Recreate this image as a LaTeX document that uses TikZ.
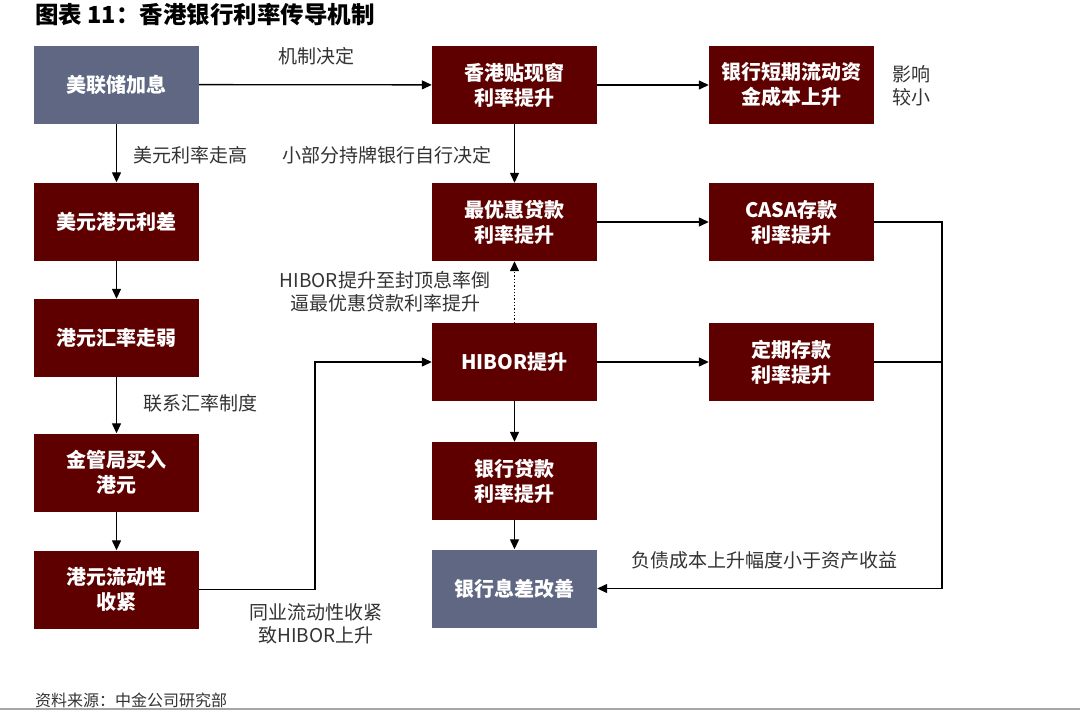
\documentclass[tikz,border=0pt]{standalone}
\usepackage{fontspec}
\setmainfont{Noto Sans CJK SC}
\usetikzlibrary{arrows.meta}
\definecolor{boxred}{HTML}{5E0000}
\definecolor{boxgray}{HTML}{5F6782}
\definecolor{txt}{HTML}{333333}
\begin{document}
\begin{tikzpicture}[x=1pt,y=-1pt,
  redbox/.style={fill=boxred,text=white,minimum width=165pt,minimum height=78pt,inner sep=0pt,
    align=center,font=\fontsize{20}{25}\selectfont\bfseries},
  graybox/.style={redbox,fill=boxgray},
  lbl/.style={text=txt,font=\fontsize{19}{23}\selectfont,align=center,inner sep=0pt},
  arr/.style={line width=1.3pt,-{Triangle[length=10pt,width=9pt]}},
  ln/.style={line width=1.3pt}]
\useasboundingbox (0,0) rectangle (1080,710);
\fill[white] (0,0) rectangle (1080,710);
% title
\node[anchor=west,inner sep=0pt,font=\fontsize{23.5}{27}\selectfont\bfseries,text=black] (title) at (35,15) {图表 11：香港银行利率传导机制};
% boxes
\node[graybox] (a1) at (116.5,84.5) {美联储加息};
\node[redbox] (a2) at (116.5,221.5) {美元港元利差};
\node[redbox] (a3) at (116.5,338) {港元汇率走弱};
\node[redbox] (a4) at (116.5,472.5) {金管局买入\\港元};
\node[redbox] (a5) at (116.5,589.5) {港元流动性\\收紧};
\node[redbox] (b1) at (514.5,85) {香港贴现窗\\利率提升};
\node[redbox] (b2) at (514.5,222) {最优惠贷款\\利率提升};
\node[redbox] (b3) at (514.5,362) {HIBOR提升};
\node[redbox] (b4) at (514.5,481) {银行贷款\\利率提升};
\node[graybox] (b5) at (514.5,588.5) {银行息差改善};
\node[redbox] (c1) at (791.5,85) {银行短期流动资\\金成本上升};
\node[redbox] (c2) at (791.5,222) {CASA存款\\利率提升};
\node[redbox] (c3) at (791.5,362) {定期存款\\利率提升};
% labels
\node[lbl] (l1) at (316,56) {机制决定};
\node[lbl] (l2) at (190,155) {美元利率走高};
\node[lbl] (l3) at (387,155) {小部分持牌银行自行决定};
\node[lbl,anchor=west] (l4) at (892,86) {影响\\较小};
\node[lbl] (l5) at (385,292) {HIBOR提升至封顶息率倒\\逼最优惠贷款利率提升};
\node[lbl] (l6) at (200,403) {联系汇率制度};
\node[lbl] (l7) at (316,624) {同业流动性收紧\\致HIBOR上升};
\node[lbl] (l8) at (764,560) {负债成本上升幅度小于资产收益};
% connectors
\coordinate (k1) at (315,0);
\coordinate (r1) at (942,0);
\draw[arr] (a1) -- (b1);
\draw[arr] (a1) -- (a2);
\draw[arr] (a2) -- (a3);
\draw[arr] (a3) -- (a4);
\draw[arr] (a4) -- (a5);
\draw[arr] (a5.east) -| (k1 |- b3.west) -- (b3.west);
\draw[arr] (b1) -- (c1);
\draw[arr] (b1) -- (b2);
\draw[line width=1.3pt,dotted,-{Triangle[length=10pt,width=9pt]}] (b3) -- (b2);
\draw[arr] (b2) -- (c2);
\draw[arr] (b3) -- (c3);
\draw[arr] (b3) -- (b4);
\draw[arr] (b4) -- (b5);
\draw[arr] (c2.east) -| (r1 |- b5.east) -- (b5.east);
\draw[ln] (c3.east) -- (r1 |- c3.east);
% footer
\node[anchor=west,inner sep=0pt,text=txt,font=\fontsize{16}{18}\selectfont] (src) at (35,700) {资料来源：中金公司研究部};
\fill[gray!70] (0,708) rectangle (1080,710);
\end{tikzpicture}
\end{document}
